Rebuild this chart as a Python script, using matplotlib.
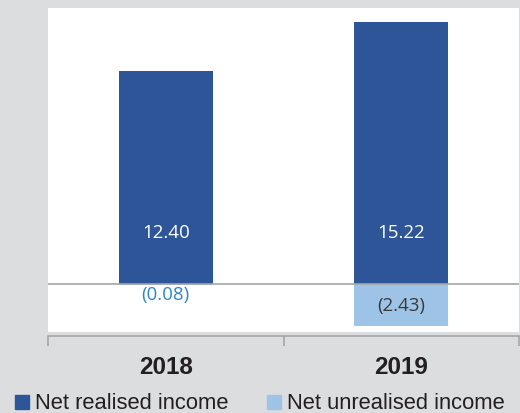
import matplotlib

matplotlib.use("Agg")
import matplotlib.pyplot as plt
from matplotlib.patches import Rectangle

# Chart data
years = ["2018", "2019"]
realised = [12.40, 15.22]
unrealised = [-0.08, -2.43]
series_names = ["Net realised income", "Net unrealised income"]

DARK = "#2e5597"
LIGHT = "#9dc3e6"
BG = "#dcdddf"
TEXT = "#231f20"

fig = plt.figure(figsize=(5.2, 4.14), dpi=100, facecolor=BG)
# white plot panel (pixel box 48..519 x 9..333)
ax = fig.add_axes([48 / 520, 81 / 414, 471 / 520, 324 / 414])
ax.set_facecolor("white")

x = list(range(len(years)))
ax.bar(x, realised, width=0.4, color=DARK, zorder=2)
ax.bar(x, unrealised, width=0.4, color=LIGHT, zorder=2)
ax.axhline(0, color="#a6a6a6", lw=1.2, zorder=3)

ax.set_xlim(-0.5, 1.5)
ax.set_ylim(-2.78, 16.03)

# value labels
for xi, v in zip(x, realised):
    ax.text(xi, 3.0, f"{v:.2f}", ha="center", va="center", color="white",
            fontsize=13.5, family="Open Sans", zorder=4)
label_y = [-0.55, unrealised[1] / 2]
label_col = ["#2f86c9", "#3a3a3a"]
for xi, v, yy, c in zip(x, unrealised, label_y, label_col):
    ax.text(xi, yy, f"({abs(v):.2f})", ha="center", va="center", color=c,
            fontsize=13.5, family="Open Sans", zorder=4)

# axis: only bottom line with category-boundary ticks, pushed just below the panel
for s in ["top", "left", "right"]:
    ax.spines[s].set_visible(False)
ax.spines["bottom"].set_position(("outward", 3))
ax.spines["bottom"].set_color("#a6a6a6")
ax.spines["bottom"].set_linewidth(1.2)
ax.set_yticks([])
ax.set_xticks([-0.5, 0.5, 1.5])
ax.set_xticklabels([])
ax.tick_params(axis="x", length=7, width=1.2, color="#a6a6a6", direction="out")

# year labels
for xi, yr in zip(x, years):
    ax.annotate(yr, xy=(xi, 0), xycoords=("data", "figure fraction"),
                xytext=(0, 414 - 368), textcoords="offset pixels",
                ha="center", va="center", fontsize=17.5, fontweight="bold",
                family="Liberation Sans", color=TEXT, annotation_clip=False)

# legend built by hand to sit flush along the bottom
legend_x = [15, 267]
for lx, name, col in zip(legend_x, series_names, [DARK, LIGHT]):
    fig.patches.append(Rectangle((lx / 520, 4 / 414), 14 / 520, 14 / 414,
                                 transform=fig.transFigure, color=col))
    fig.text((lx + 20) / 520, 10 / 414, name, ha="left", va="center",
             fontsize=15.8, family="Liberation Sans", color=TEXT)

fig.savefig("out.png", dpi=100, facecolor=BG)
